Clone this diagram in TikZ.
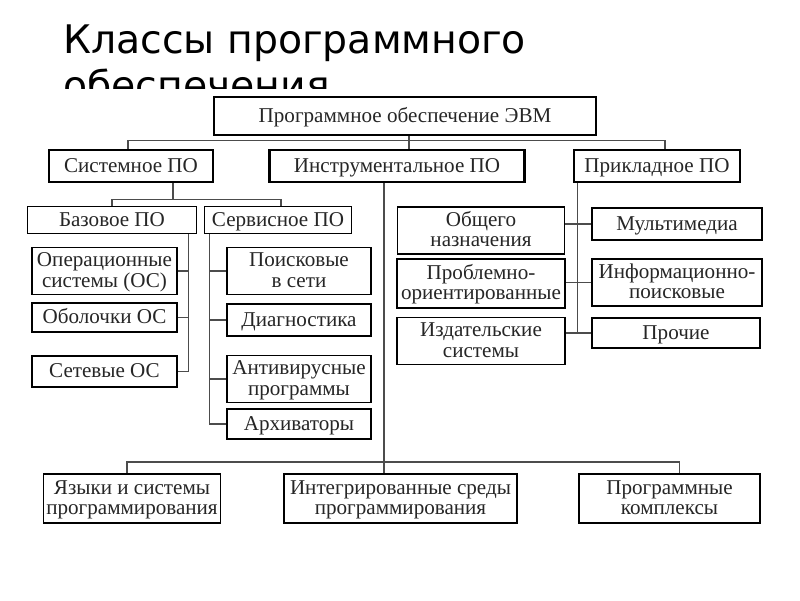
\documentclass[tikz,border=0pt]{standalone}
\usepackage{fontspec}
\setmainfont{Liberation Serif}
\newfontfamily\titlefont{DejaVu Sans}
\usetikzlibrary{calc,positioning}
\newcommand\postrut{\rule[-0.35em]{0pt}{1.3em}}
\newcommand\postack[2]{\rule{0pt}{0.9em}#1\\#2\rule[-0.15em]{0pt}{0.15em}}
\tikzset{
 po level/.style={draw=black,line width=1.8pt,fill=white,inner xsep=1pt,inner ysep=0pt,
                  align=center,text=black!85,font=\fontsize{15}{14.5}\selectfont,
                  execute at begin node=\postrut,execute at end node=\postrut},
 po box/.style={po level,line width=1.1pt},
 po size/.style 2 args={minimum width=#1*0.025cm,minimum height=#2*0.025cm},
 po link/.style={line width=0.8pt,black!70},
 po title/.style={anchor=base west,align=left,inner sep=0pt,
                  font=\titlefont\fontsize{28}{32.6}\selectfont}
}
\begin{document}
\begin{tikzpicture}[x=0.025cm,y=-0.025cm]
 \useasboundingbox (0,0) rectangle (800,600);
 \begin{scope}
  \clip (0,0) rectangle (800,88);
  \node[po title] (title) at (63,99) {Классы программного\\обеспечения};
 \end{scope}

 % top levels
 \node[po level,po size={382}{38}] (top) at (405,116) {Программное обеспечение ЭВМ};
 \node[po level,po size={164}{32}] (sys) at (131,166) {Системное ПО};
 \node[po level,po size={255}{32}] (instr) at (397,166) {Инструментальное ПО};
 \node[po level,po size={166}{32}] (appl) at (657,166) {Прикладное ПО};

 % system software
 \node[po box,po size={169}{24}] (base) at (112,220) {Базовое ПО};
 \node[po box,po size={147}{25}] (serv) at (278,220) {Сервисное ПО};
 \node[po box,po size={145}{46}] (os) at (104.5,271) {\postack{Операционные}{системы (ОС)}};
 \node[po box,po size={145}{29}] (shell) at (104.5,317.5) {Оболочки ОС};
 \node[po box,po size={145}{31}] (net) at (104.5,371.5) {Сетевые ОС};
 \node[po box,po size={144}{46}] (search) at (299,271) {\postack{Поисковые}{в сети}};
 \node[po box,po size={144}{32}] (diag) at (299,320) {Диагностика};
 \node[po box,po size={144}{42}] (anti) at (299,379) {\postack{Антивирусные}{программы}};
 \node[po box,po size={144}{30}] (arch) at (299,424) {Архиваторы};

 % applied software
 \node[po box,po size={167}{45}] (gen) at (481,230.5) {\postack{Общего}{назначения}};
 \node[po box,po size={168}{49}] (prob) at (481,283.5) {\postack{Проблемно-}{ориентированные}};
 \node[po box,po size={168}{46}] (pub) at (481,341) {\postack{Издательские}{системы}};
 \node[po box,po size={170}{32}] (mm) at (677,224) {Мультимедиа};
 \node[po box,po size={170}{45}] (info) at (677,282.5) {\postack{Информационно-}{поисковые}};
 \node[po box,po size={168}{30}] (other) at (676,333) {Прочие};

 % tools
 \node[po level,line width=1.4pt,po size={177}{49}] (lang) at (132,498.5) {\postack{Языки и системы}{программирования}};
 \node[po level,line width=1.4pt,po size={233}{49}] (ide) at (400.5,498.5) {\postack{Интегрированные среды}{программирования}};
 \node[po level,line width=1.4pt,po size={181}{49}] (compl) at (669.5,498.5) {\postack{Программные}{комплексы}};

 \draw[po link] ([xshift=0.1cm]top.south) -- ([xshift=0.1cm]top.south |- instr.north);
 \draw[po link] ([xshift=-0.075cm]sys.north) -- ++(0,-8) -| ([xshift=0.2cm]appl.north);

 \draw[po link] ([xshift=1.05cm]sys.south) -- ++(0,16) coordinate (sysfork);
 \draw[po link] (base.north) |- (sysfork) -| ([xshift=0.075cm]serv.north);

 \draw[po link] ([xshift=-0.225cm]base.south east) coordinate (bb) -- (bb |- net.east) -- (net.east);
 \foreach \n in {os,shell} \draw[po link] (\n.east) -- (\n.east -| bb);
 \draw[po link] ([xshift=0.15cm]serv.south west) coordinate (sb) -- (sb |- arch.west) -- (arch.west);
 \foreach \n in {search,diag,anti} \draw[po link] (\n.west) -- (\n.west -| sb);

 \draw[po link] ([xshift=0.125cm]appl.south west) coordinate (ab) -- (ab |- other.west);
 \draw[po link] (mm.west) -- (mm.west -| gen.east);
 \draw[po link] (info.west) -- (info.west -| prob.east);
 \draw[po link] (other.west) -- (other.west -| pub.east);

 \draw[po link] ([xshift=-0.325cm]instr.south) coordinate (ib) -- (ib |- ide.north);
 \draw[po link] ([xshift=-0.125cm]lang.north) -- ++(0,-11) -| ([xshift=0.25cm]compl.north);
\end{tikzpicture}
\end{document}
